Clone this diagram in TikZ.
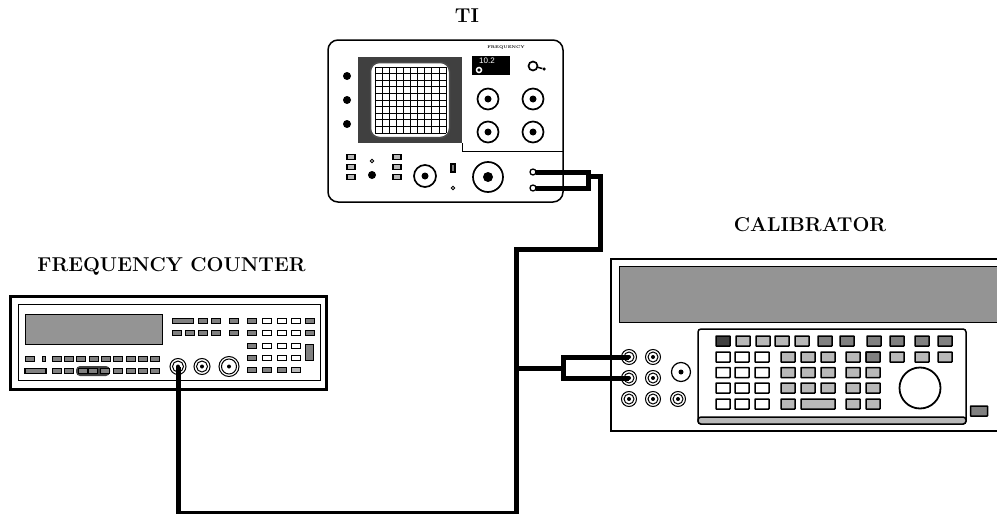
\documentclass[tikz,border=0pt]{standalone}
\usepackage{fontspec}
\newfontfamily\panelfont{Liberation Sans}
\definecolor{keydark}{gray}{0.25}
\definecolor{keymid}{gray}{0.5}
\definecolor{keylight}{gray}{0.72}
\definecolor{lcdgray}{gray}{0.58}
\tikzset{
  every node/.style={inner sep=0pt, outer sep=0pt},
  title/.style={font=\fontsize{20}{22}\selectfont\bfseries},
  dev/.style={shape=rectangle, draw, fill=white},
  knob/.style={shape=circle, draw, line width=1.7pt, fill=white},
  hole/.style={shape=circle, fill=black},
  tkey/.style={shape=rectangle, draw, line width=1.3pt, fill=keylight, minimum width=8pt, minimum height=5pt},
  fkey/.style={shape=rectangle, draw, line width=1.4pt, fill=keymid, minimum width=9pt, minimum height=5pt},
  ckey/.style={shape=rectangle, draw, line width=1.5pt, fill=keylight, minimum width=14pt, minimum height=10pt, rounded corners=0.5pt},
  cable/.style={line width=5pt, line join=miter},
}
\begin{document}
\begin{tikzpicture}[x=1pt, y=-1pt]
\useasboundingbox (0,0) rectangle (997,514);
\node at (467,16) [title] (titleti) {TI};
\node at (171.5,266) [title] (titlefc) {FREQUENCY COUNTER};
\node at (810,225) [title] (titlecal) {CALIBRATOR};

% TI
\node at (445.5,121) [dev, rounded corners=10pt, line width=1.5pt, minimum width=235pt, minimum height=162pt] (ti) {};
\node at (410,100) [shape=rectangle, fill=keydark, minimum width=104pt, minimum height=86pt] (tiframe) {};
\node at (410,100) [shape=rectangle, draw=black!70, line width=1.5pt, fill=white, rounded corners=9pt, minimum width=79pt, minimum height=75pt] (tiscreen) {};
\foreach \x in {0,...,10}
  \draw [line width=0.8pt] (375+\x*7.1,67) -- (375+\x*7.1,133);
\foreach \y in {0,...,10}
  \draw [line width=0.8pt] (375,67+\y*6.6) -- (446,67+\y*6.6);
\draw [line width=1pt] (462,143) -- (462,151) -- (563,151);
\foreach \y in {76,100,124}
  \node at (347,\y) [hole, minimum size=8pt] (tidial\y) {};
\node at (506,48) [font=\fontsize{3.9}{5}\selectfont\bfseries] (tifreq) {FREQUENCY};
\node at (491,65.5) [shape=rectangle, fill=black, minimum width=38pt, minimum height=19pt] (tilcd) {};
\node at (487,61) [font=\fontsize{8}{9}\panelfont, text=white] (tilcdtext) {10.2};
\node at (479,70) [shape=circle, draw=white, line width=1.5pt, fill=black, minimum size=5pt] (tilcdring) {};
\node at (533,66) [knob, minimum size=9pt] (tikey) {};
\node at (544,69) [hole, minimum size=3.5pt] (tikeyend) {};
\draw [line width=1.5pt] (tikey) -- (tikeyend);
\foreach \x/\y in {488/99,533/99,488/132,533/132} {
  \node at (\x,\y) [knob, minimum size=21pt] (tibnc\x\y) {};
  \node at (\x,\y) [hole, minimum size=7pt] (tibnchole\x\y) {};
}
\foreach \x in {351,397}
  \foreach \y in {157,167,177}
    \node at (\x,\y) [tkey] (tikey\x\y) {};
\node at (372,161) [knob, line width=1pt, minimum size=3.5pt] (tismalla) {};
\node at (372,175) [hole, minimum size=8pt] (tidot) {};
\node at (425,176) [knob, minimum size=22pt] (tidiala) {};
\node at (425,176) [hole, minimum size=7pt] (tidialahole) {};
\node at (453,168) [tkey, fill=keymid, minimum width=4pt, minimum height=8pt] (tislot) {};
\node at (453,188) [knob, line width=1pt, minimum size=3.5pt] (tismallb) {};
\node at (488,177) [knob, minimum size=30pt] (tidialb) {};
\node at (488,177) [hole, minimum size=10pt] (tidialbhole) {};

% frequency counter
\node at (168.5,343) [dev, line width=3pt, minimum width=316pt, minimum height=93pt] (fc) {};
\node at (169,342.5) [dev, line width=1pt, minimum width=302pt, minimum height=76pt] (fcpanel) {};
\node at (94,329.5) [shape=rectangle, draw, line width=1pt, fill=lcdgray, minimum width=137pt, minimum height=30pt] (fclcd) {};
\node at (183,321) [fkey, minimum width=21pt] (fcwide) {};
\foreach \x in {203,216,234,252}
  \node at (\x,321) [fkey] (fctop\x) {};
\foreach \x in {267,282,296}
  \node at (\x,321) [fkey, fill=white] (fctopw\x) {};
\node at (310,321) [fkey] (fctopr) {};
\foreach \x in {177,190,203,216,234,252}
  \node at (\x,333) [fkey] (fcsec\x) {};
\foreach \x in {267,282,296}
  \node at (\x,333) [fkey, fill=white] (fcsecw\x) {};
\node at (310,333) [fkey] (fcsecr) {};
\foreach \y in {346,358} {
  \node at (252,\y) [fkey] (fcg\y) {};
  \foreach \x in {267,282,296}
    \node at (\x,\y) [fkey, fill=white] (fcw\x\y) {};
}
\node at (309.5,352.5) [fkey, minimum width=8pt, minimum height=16pt] (fctall) {};
\foreach \x in {252,267,282}
  \node at (\x,370) [fkey] (fcbot\x) {};
\node at (296,370) [fkey, fill=keylight] (fcbotl) {};
\foreach \x in {30,57,69,81,94,106,118,131,143,155}
  \node at (\x,359) [fkey] (fcleft\x) {};
\node at (44,359) [fkey, minimum width=3.5pt] (fcleftn) {};
\node at (93,371) [shape=rectangle, rounded corners=4pt, fill=keydark, minimum width=34pt, minimum height=10pt] (fcpill) {};
\node at (35.5,371) [fkey, minimum width=21pt] (fcleftw) {};
\foreach \x in {57,69,83,93,105,118,131,143,155}
  \node at (\x,371) [fkey] (fclow\x) {};
\foreach \x/\r in {178/16,202/16,229/20} {
  \node at (\x,366.5) [knob, line width=1pt, minimum size=\r pt] (fcbnc\x) {};
  \node at (\x,366.5) [knob, line width=1pt, minimum size=\r pt-5pt] (fcbncin\x) {};
  \node at (\x,366.5) [hole, minimum size=4pt] (fcbnchole\x) {};
}

% calibrator
\draw [line width=2.6pt, fill=white] (997,259) -- (611,259) -- (611,431) -- (997,431);
\node at (808,294) [shape=rectangle, draw, line width=1pt, fill=lcdgray, minimum width=378pt, minimum height=56pt] (callcd) {};
\node at (832,376.5) [dev, rounded corners=3pt, line width=1.5pt, minimum width=268pt, minimum height=95pt] (calpad) {};
\draw [line width=1.5pt, rounded corners=3pt, fill=keylight] (calpad.south west) ++(0,-7) -- (calpad.south west) -- (calpad.south east) -- ++(0,-7) -- cycle;
\foreach \x in {743,763,782,802}
  \node at (\x,341) [ckey] (calrowa\x) {};
\node at (723,341) [ckey, fill=keydark] (calfirst) {};
\foreach \x in {825,847,874,897,922,945}
  \node at (\x,341) [ckey, fill=keymid] (calrowb\x) {};
\foreach \y in {357,372.5,388,404}
  \foreach \x in {723,742,762}
    \node at (\x,\y) [ckey, fill=white] (calw\x\y) {};
\foreach \x in {788,808,828,853,873} {
  \node at (\x,357) [ckey] (cala\x) {};
  \node at (\x,372.5) [ckey] (calb\x) {};
  \node at (\x,388) [ckey] (calc\x) {};
}
\node at (873,357) [ckey, fill=keymid] (calmid) {};
\foreach \x in {897,922,945}
  \node at (\x,357) [ckey] (cald\x) {};
\node at (788,404) [ckey] (cale) {};
\node at (818,404) [ckey, minimum width=34pt] (calewide) {};
\foreach \x in {853,873}
  \node at (\x,404) [ckey] (calf\x) {};
\node at (920,388) [knob, line width=1.8pt, minimum size=41pt] (calknob) {};
\node at (979,411) [ckey, fill=keymid, minimum width=17pt] (calside) {};
\foreach \x/\y in {629/357,653/357,629/378,653/378,629/399,653/399,678/399} {
  \node at (\x,\y) [knob, line width=1pt, minimum size=15pt] (calbnc\x\y) {};
  \node at (\x,\y) [knob, line width=1pt, minimum size=10pt] (calbncin\x\y) {};
  \node at (\x,\y) [hole, minimum size=4pt] (calbnchole\x\y) {};
}
\node at (681,372) [knob, line width=1.2pt, minimum size=19pt] (calout) {};
\node at (681,372) [hole, minimum size=5pt] (calouthole) {};

% terminals and leads
\node at (533,172) [knob, line width=1.3pt, minimum size=6pt] (tihi) {};
\node at (533,188) [knob, line width=1.3pt, minimum size=6pt] (tilo) {};
\coordinate (tibr) at (588,176);
\coordinate (tidrop) at (600,176);
\coordinate (main) at (516,368);
\coordinate (split) at (563,368);
\draw [cable] (tihi) -- (588,172) -- (588,188) -- (tilo);
\draw [cable] (tibr) -- (tidrop) |- (516,249) |- (178,513) -- (fcbnc178.center);
\draw [cable] (516,249) -- (516,513);
\draw [cable] (main) -- (split);
\draw [cable] (calbnc629357.center) -| (split) |- (calbnc629378.center);
\end{tikzpicture}
\end{document}
